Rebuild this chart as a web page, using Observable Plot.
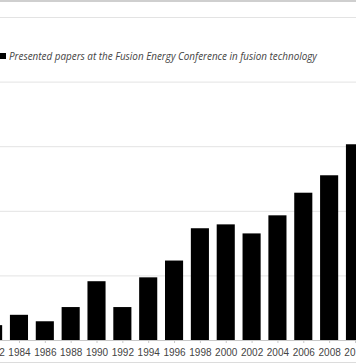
<!DOCTYPE html>
<html>
<head>
<meta charset="utf-8">
<script src="https://cdn.jsdelivr.net/npm/d3@7"></script>
<script src="https://cdn.jsdelivr.net/npm/@observablehq/plot@0.6"></script>
<style>
  html, body { margin: 0; padding: 0; background: #fff; overflow: hidden; }
  #wrap { position: relative; width: 356px; height: 364px; overflow: hidden; }
  #chart { position: absolute; left: 0; top: 0; }
  #topline { position: absolute; left: 0; top: 0; width: 356px; height: 1.5px; background: #cfcfcf; }
  #botline { position: absolute; left: 0; top: 362px; width: 356px; height: 1px; background: #dcdcdc; }
  #legend { position: absolute; left: 0; top: 49px; font-family: "Open Sans", sans-serif; font-style: italic; font-size: 9.9px; color: #444; white-space: nowrap; display: flex; align-items: center; }
  #legend .sw { display: inline-block; width: 6px; height: 6px; background: #000; margin-right: 3px; }
</style>
</head>
<body>
<div id="wrap">
  <div id="chart"></div>
  <div id="topline"></div>
  <div id="botline"></div>
  <div id="legend"><span class="sw"></span><span>Presented papers at the Fusion Energy Conference in fusion technology</span></div>
</div>
<script>
const years = ["1982","1984","1986","1988","1990","1992","1994","1996","1998","2000","2002","2004","2006","2008","2010"];
const papers = [2.3, 3.9, 2.9, 5.1, 9.1, 5.1, 9.7, 12.3, 17.3, 17.9, 16.5, 19.3, 22.8, 25.5, 30.3];
const gridTicks = [10, 20, 30, 40, 50];

const data = years.map((y, i) => ({year: y, value: papers[i]}));

const chart = Plot.plot({
  width: 356,
  height: 364,
  marginLeft: 0,
  marginRight: 0,
  marginTop: 17,
  marginBottom: 24,
  style: {fontFamily: "'Liberation Sans', Arial, sans-serif", fontSize: "10px", color: "#444", background: "transparent"},
  x: {domain: years, range: [-19.8, 367.9], paddingInner: 0.3, paddingOuter: 0.15, round: false, label: null},
  y: {domain: [0, 50], axis: null},
  marks: [
    Plot.gridY(gridTicks, {stroke: "#e3e3e3", strokeOpacity: 1, strokeWidth: 1}),
    Plot.barY(data, {x: "year", y: "value", fill: "#000"}),
    Plot.ruleY([0], {stroke: "#c8c8c8", strokeWidth: 1}),
    Plot.axisX({tickSize: 3, stroke: "#c8c8c8", tickPadding: 5, fill: "#444", fontSize: 10})
  ]
});
document.getElementById("chart").appendChild(chart);
</script>
</body>
</html>
